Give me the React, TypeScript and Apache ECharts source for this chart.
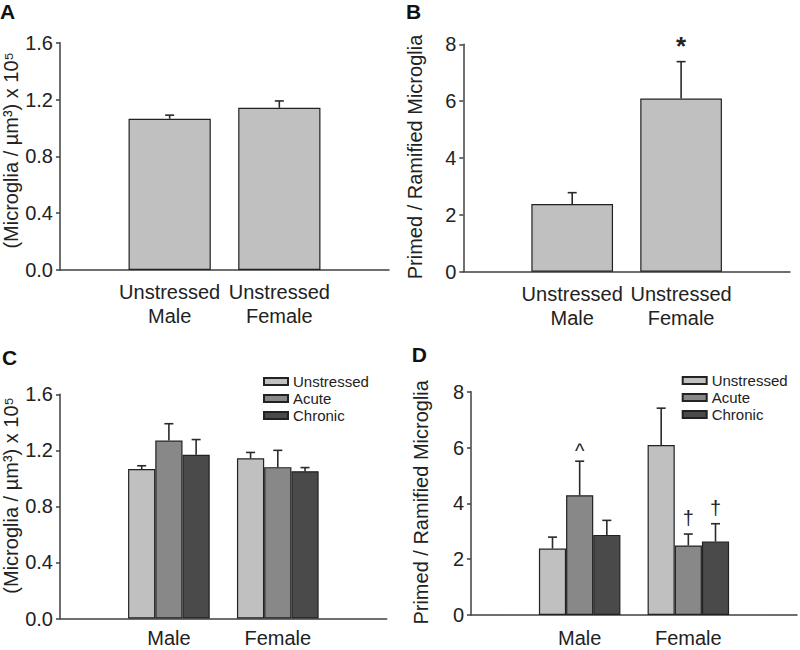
import React, { useEffect, useRef } from 'react';
import * as echarts from 'echarts';

const FONT = "'Liberation Sans', Arial, Helvetica, sans-serif";
const TEXT = '#222222';
const AXIS = '#404040';
const EDGE = '#222222';

// Categories
const topCats = ['Unstressed\nMale', 'Unstressed\nFemale'];
const botCats = ['Male', 'Female'];
const groups = ['Unstressed', 'Acute', 'Chronic'];
const groupColors = ['#c0c0c0', '#888888', '#4a4a4a'];

// Panel A: microglia density (x10^5 / µm3)
const densityA = [1.065, 1.142];
const densityASem = [0.025, 0.048];

// Panel B: primed / ramified ratio
const ratioB = [2.38, 6.09];
const ratioBSem = [0.4, 1.3];
const ratioBMarks = ['', '*'];

// Panel C: density by stress group (rows = groups, cols = Male, Female)
const densityC = [
  [1.067, 1.143],
  [1.27, 1.08],
  [1.168, 1.051],
];
const densityCSem = [
  [0.023, 0.042],
  [0.12, 0.12],
  [0.109, 0.026],
];

// Panel D: ratio by stress group
const ratioD = [
  [2.38, 6.09],
  [4.29, 2.49],
  [2.87, 2.63],
];
const ratioDSem = [
  [0.41, 1.32],
  [1.22, 0.41],
  [0.52, 0.64],
];
const ratioDMarks = [
  ['', ''],
  ['^', '†'],
  ['', '†'],
];

const densityName = '(Microglia / µm³) x 10⁵';
const ratioName = 'Primed / Ramified Microglia';

const markStyle: Record<string, { size: number; weight: string; gap: number }> = {
  '*': { size: 26, weight: 'bold', gap: 16 },
  '^': { size: 20, weight: 'normal', gap: 10 },
  '†': { size: 20, weight: 'normal', gap: 16 },
};

function xAxis(gridIndex: number, cats: string[], margin: number) {
  return {
    type: 'category',
    gridIndex,
    data: ['', ...cats, ''],
    boundaryGap: false,
    axisLine: { show: true, lineStyle: { color: AXIS, width: 1.5 } },
    axisTick: { show: false },
    axisLabel: {
      interval: 0,
      margin,
      fontSize: 20,
      lineHeight: 24,
      color: TEXT,
      fontFamily: FONT,
    },
    splitLine: { show: false },
  };
}

function yAxis(
  gridIndex: number,
  max: number,
  interval: number,
  decimals: number,
  name: string,
  nameGap: number,
  namePad: number
) {
  return {
    type: 'value',
    gridIndex,
    min: 0,
    max,
    interval,
    name,
    nameLocation: 'middle',
    nameGap,
    nameTextStyle: {
      fontSize: 20,
      color: TEXT,
      fontFamily: FONT,
      padding: [0, 0, 0, namePad],
    },
    axisLine: { show: true, lineStyle: { color: AXIS, width: 1.5 } },
    axisTick: { show: true, length: 4, lineStyle: { color: AXIS, width: 1.5 } },
    axisLabel: {
      margin: 7,
      fontSize: 20,
      color: TEXT,
      fontFamily: FONT,
      formatter: (v: number) => v.toFixed(decimals),
    },
    splitLine: { show: false },
  };
}

function bars(name: string, idx: number, values: number[], color: string, barWidth: string) {
  return {
    type: 'bar',
    name,
    xAxisIndex: idx,
    yAxisIndex: idx,
    barWidth,
    barGap: '0%',
    data: values.map((v, j) => [j + 1, v]),
    itemStyle: { color, borderColor: EDGE, borderWidth: 1.2 },
    z: 2,
  };
}

function errs(idx: number, values: number[], sems: number[], k: number, marks: string[]) {
  return {
    type: 'custom',
    xAxisIndex: idx,
    yAxisIndex: idx,
    z: 5,
    encode: { x: 0, y: [1, 2] },
    data: values.map((v, j) => [j + 1, v, v + sems[j]]),
    renderItem: (params: any, api: any) => {
      const i = api.value(0);
      const v = api.value(1);
      const hi = api.value(2);
      const base = api.coord([i, v]);
      const top = api.coord([i, hi]);
      const bw = api.size([1, 0])[0];
      const x = base[0] + k * bw * 0.25;
      const stroke = { stroke: '#2a2a2a', lineWidth: 1.6 };
      const children: any[] = [
        { type: 'line', shape: { x1: x, y1: base[1], x2: x, y2: top[1] }, style: stroke },
        { type: 'line', shape: { x1: x - 4.5, y1: top[1], x2: x + 4.5, y2: top[1] }, style: stroke },
      ];
      const m = marks[params.dataIndex];
      if (m) {
        const s = markStyle[m];
        children.push({
          type: 'text',
          x,
          y: top[1] - s.gap,
          style: {
            text: m,
            fill: TEXT,
            fontSize: s.size,
            fontWeight: s.weight,
            fontFamily: FONT,
            align: 'center',
            verticalAlign: 'middle',
            textAlign: 'center',
            textVerticalAlign: 'middle',
          },
        });
      }
      return { type: 'group', children };
    },
  };
}

function letter(text: string, x: number, y: number) {
  return {
    type: 'text',
    x,
    y,
    style: {
      text,
      fill: '#111111',
      fontSize: 21,
      fontWeight: 'bold',
      fontFamily: FONT,
      align: 'left',
      verticalAlign: 'middle',
      textAlign: 'left',
      textVerticalAlign: 'middle',
    },
  };
}

function legend(left: number, top: number) {
  return {
    left,
    top,
    orient: 'vertical',
    icon: 'rect',
    itemWidth: 24,
    itemHeight: 7,
    itemGap: 2,
    padding: 0,
    selectedMode: false,
    data: groups,
    textStyle: { fontSize: 15, color: TEXT, fontFamily: FONT },
  };
}

export default function App() {
  const ref = useRef<HTMLDivElement>(null);

  useEffect(() => {
    if (!ref.current) return;
    const chart = echarts.init(ref.current, undefined, { renderer: 'svg' });

    const series: any[] = [
      bars('Unstressed', 0, densityA, groupColors[0], '75%'),
      errs(0, densityA, densityASem, 0, ['', '']),
      bars('Unstressed', 1, ratioB, groupColors[0], '75%'),
      errs(1, ratioB, ratioBSem, 0, ratioBMarks),
    ];
    groups.forEach((g, gi) => {
      series.push(bars(g, 2, densityC[gi], groupColors[gi], '25%'));
    });
    groups.forEach((g, gi) => {
      series.push(errs(2, densityC[gi], densityCSem[gi], gi - 1, ['', '']));
    });
    groups.forEach((g, gi) => {
      series.push(bars(g, 3, ratioD[gi], groupColors[gi], '25%'));
    });
    groups.forEach((g, gi) => {
      series.push(errs(3, ratioD[gi], ratioDSem[gi], gi - 1, ratioDMarks[gi]));
    });

    chart.setOption({
      animation: false,
      backgroundColor: '#ffffff',
      textStyle: { fontFamily: FONT },
      grid: [
        { left: 60, top: 42.7, width: 329, height: 227.3 },
        { left: 463.3, top: 44.3, width: 326.7, height: 227.4 },
        { left: 60, top: 394.3, width: 326.7, height: 227.4 },
        { left: 471, top: 391.7, width: 329, height: 226.6 },
      ],
      xAxis: [xAxis(0, topCats, 10), xAxis(1, topCats, 10), xAxis(2, botCats, 7.5), xAxis(3, botCats, 11)],
      yAxis: [
        yAxis(0, 1.6, 0.4, 1, densityName, 36, 12),
        yAxis(1, 8, 2, 0, ratioName, 38, 2),
        yAxis(2, 1.6, 0.4, 1, densityName, 36, 22),
        yAxis(3, 8, 2, 0, ratioName, 40, 2),
      ],
      legend: [legend(263, 374), legend(681.7, 373)],
      graphic: [letter('A', 0, 11), letter('B', 406, 11), letter('C', 2, 357.5), letter('D', 411.7, 354)],
      series,
    });

    return () => chart.dispose();
  }, []);

  return (
    <div
      ref={ref}
      style={{ position: 'fixed', left: 0, top: 0, width: 800, height: 650, background: '#fff' }}
    />
  );
}
